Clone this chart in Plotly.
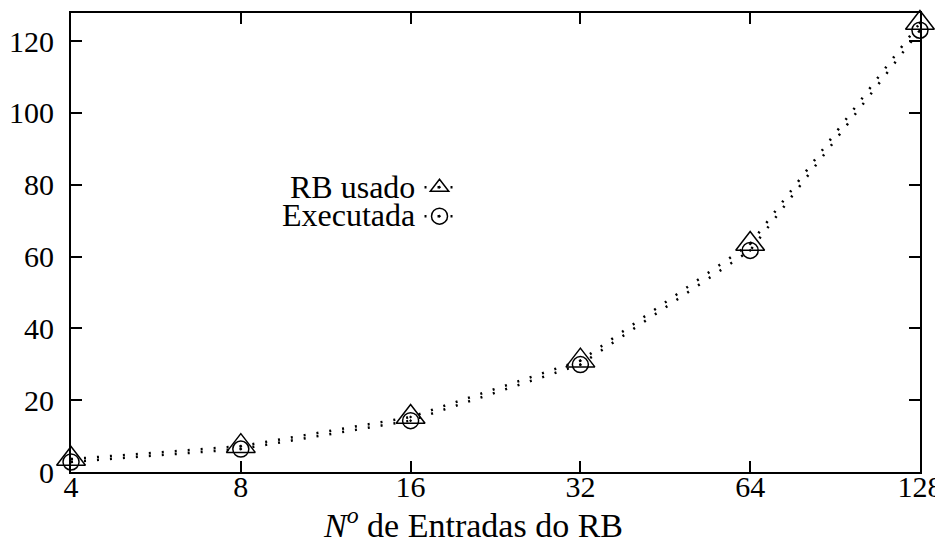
import plotly.graph_objects as go

entradas = [4, 8, 16, 32, 64, 128]
rb_usado = [3.6, 7.2, 15.3, 31, 63.5, 125]
executada = [2.8, 6.4, 14.3, 29.9, 61.7, 123]
y_ticks = [0, 20, 40, 60, 80, 100, 120]
series_names = ["RB usado", "Executada"]
x_title = "<i>N</i><sup><i>o</i></sup> de Entradas do RB"

FONT = "Liberation Serif"

fig = go.Figure()
fig.add_trace(go.Scatter(
    x=entradas, y=rb_usado, mode="lines+markers", name="\u00a0",
    line=dict(color="black", width=2.5, dash="2px,11px"),
    marker=dict(symbol="triangle-up-open-dot", size=25, color="black",
                line=dict(width=1.5, color="black")),
    cliponaxis=False,
))
fig.add_trace(go.Scatter(
    x=entradas, y=executada, mode="lines+markers", name="\u00a0",
    line=dict(color="black", width=2.5, dash="2px,11px"),
    marker=dict(symbol="circle-open-dot", size=16, color="black",
                line=dict(width=1.5, color="black")),
    cliponaxis=False,
))

# Legend labels to the left of the legend symbols (gnuplot style)
for i, nm in enumerate(series_names):
    fig.add_annotation(
        text=nm, xref="paper", yref="paper", x=0.407, y=0.621 - i * 0.061,
        xanchor="right", yanchor="middle", showarrow=False,
        font=dict(family=FONT, size=32, color="black"),
    )

fig.add_annotation(
    text=x_title, xref="paper", yref="paper", x=0.4735, y=-0.111,
    xanchor="center", yanchor="middle", showarrow=False,
    font=dict(family=FONT, size=34, color="black"),
)

# page body has an 8px margin, so the figure is 8px smaller than the window
fig.update_layout(
    width=935, height=537,
    margin=dict(l=63, r=23, t=5, b=73),
    paper_bgcolor="white", plot_bgcolor="white",
    font=dict(family=FONT, size=30, color="black"),
    showlegend=True,
    legend=dict(x=0.4105, y=0.663, xanchor="left", yanchor="top",
                bgcolor="rgba(0,0,0,0)", font=dict(size=20), itemwidth=30,
                tracegroupgap=0),
)
fig.update_xaxes(
    type="log", range=[0.6020, 2.1073], tickvals=entradas,
    ticktext=[str(v) for v in entradas],
    showgrid=False, zeroline=False, automargin=False,
    ticklabeloverflow="allow", ticklabelstandoff=-13,
    showline=True, linecolor="black", linewidth=2, mirror="ticks",
    ticks="inside", ticklen=11, tickcolor="black", tickwidth=1.5,
    tickfont=dict(family=FONT, size=30),
)
fig.update_yaxes(
    range=[0, 127.8], tickvals=y_ticks,
    showgrid=False, zeroline=False, automargin=False,
    ticklabeloverflow="allow", ticklabelstandoff=9,
    showline=True, linecolor="black", linewidth=2, mirror="ticks",
    ticks="inside", ticklen=11, tickcolor="black", tickwidth=1.5,
    tickfont=dict(family=FONT, size=30),
)

fig.write_html("out.html")
